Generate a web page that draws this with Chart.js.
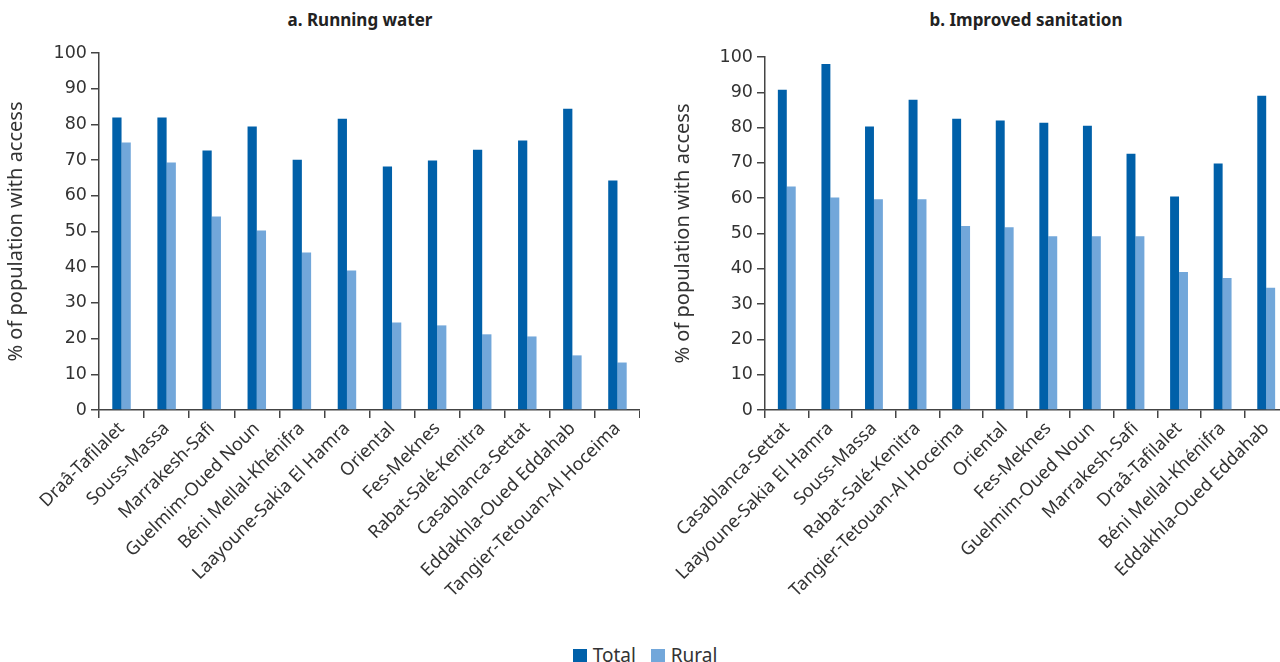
<!DOCTYPE html>
<html>
<head>
<meta charset="utf-8">
<script src="https://cdn.jsdelivr.net/npm/chart.js@4"></script>
<style>
  body { margin: 0; width: 1280px; height: 662px; overflow: hidden; background: #fff; font-family: "Noto Sans", sans-serif; color: #333; }
  .titulo { position: absolute; top: 8px; font-weight: bold; font-size: 17px; text-align: center; color: #222; }
  #izq { position: absolute; left: 0; top: 0; }
  #der { position: absolute; left: 640px; top: 0; }
  #leyenda { position: absolute; top: 642px; left: 0; width: 1280px; text-align: center; font-size: 19px; }
  #leyenda span.caja { display: inline-block; width: 14px; height: 14px; margin: 0 6px 0 10px; vertical-align: -1px; }
</style>
</head>
<body>
<div class="titulo" style="left:200px;width:320px;">a. Running water</div>
<div class="titulo" style="left:866px;width:320px;">b. Improved sanitation</div>
<canvas id="izq" width="640" height="630"></canvas>
<canvas id="der" width="648" height="630"></canvas>
<div id="leyenda"><span class="caja" style="background:#0060a9"></span>Total <span class="caja" style="background:#72a7da"></span>Rural</div>
<script>
// a. Running water
const regionesAgua = ["Draâ-Tafilalet", "Souss-Massa", "Marrakesh-Safi", "Guelmim-Oued Noun", "Béni Mellal-Khénifra", "Laayoune-Sakia El Hamra", "Oriental", "Fes-Meknes", "Rabat-Salé-Kenitra", "Casablanca-Settat", "Eddakhla-Oued Eddahab", "Tangier-Tetouan-Al Hoceima"];
const aguaTotal = [81.9, 81.9, 72.7, 79.4, 70.1, 81.6, 68.2, 69.9, 72.9, 75.5, 84.4, 64.3];
const aguaRural = [74.9, 69.3, 54.2, 50.3, 44.1, 39.1, 24.5, 23.7, 21.2, 20.6, 15.3, 13.3];

// b. Improved sanitation
const regionesSaneamiento = ["Casablanca-Settat", "Laayoune-Sakia El Hamra", "Souss-Massa", "Rabat-Salé-Kenitra", "Tangier-Tetouan-Al Hoceima", "Oriental", "Fes-Meknes", "Guelmim-Oued Noun", "Marrakesh-Safi", "Draâ-Tafilalet", "Béni Mellal-Khénifra", "Eddakhla-Oued Eddahab"];
const saneamientoTotal = [90.7, 98.0, 80.3, 87.9, 82.5, 82.0, 81.4, 80.5, 72.6, 60.5, 69.8, 89.0];
const saneamientoRural = [63.3, 60.2, 59.7, 59.7, 52.1, 51.8, 49.2, 49.2, 49.2, 39.1, 37.4, 34.6];

const yTicks = { min: 0, max: 100, step: 10 };

const fuente = "'Noto Sans', sans-serif";

const crearConfig = (etiquetas, total, rural, padIzq, padTop, anchoY) => ({
  type: "bar",
  data: {
    labels: etiquetas,
    datasets: [
      { label: "Total", data: total, backgroundColor: "#0060a9", categoryPercentage: 0.41, barPercentage: 1 },
      { label: "Rural", data: rural, backgroundColor: "#72a7da", categoryPercentage: 0.41, barPercentage: 1 },
    ],
  },
  options: {
    responsive: false,
    animation: false,
    layout: { padding: { left: padIzq, top: padTop, right: 0, bottom: 0 } },
    plugins: { legend: { display: false }, tooltip: { enabled: false } },
    scales: {
      x: {
        grid: { display: true, drawOnChartArea: false, offset: true, tickLength: 8, color: "#444", lineWidth: 1.5 },
        border: { color: "#444", width: 1.5 },
        ticks: { autoSkip: false, minRotation: 45, maxRotation: 45, color: "#333", font: { family: fuente, size: 18 }, padding: 0 },
        afterFit: (scale) => { scale.height = 220; },
      },
      y: {
        min: yTicks.min,
        max: yTicks.max,
        grid: { display: true, drawOnChartArea: false, tickLength: 8, color: "#444", lineWidth: 1.5 },
        border: { color: "#444", width: 1.5 },
        ticks: { stepSize: yTicks.step, color: "#333", font: { family: "'DejaVu Sans', sans-serif", size: 17.5 }, padding: 4 },
        title: { display: true, text: "% of population with access", color: "#333", font: { family: fuente, size: 20 }, padding: { top: 4, bottom: 0 } },
        afterFit: (scale) => { scale.width = anchoY; },
      },
    },
  },
});

new Chart(document.getElementById("izq"), crearConfig(regionesAgua, aguaTotal, aguaRural, 0, 53, 99));
new Chart(document.getElementById("der"), crearConfig(regionesSaneamiento, saneamientoTotal, saneamientoRural, 27, 57, 98));
</script>
</body>
</html>
